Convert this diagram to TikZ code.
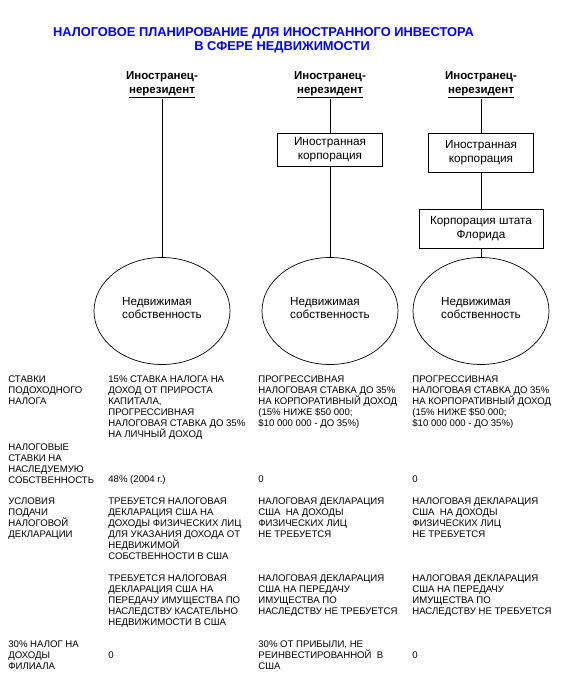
\documentclass[tikz,border=0pt]{standalone}
\usepackage{fontspec}
\setmainfont{Liberation Sans}
\usetikzlibrary{shapes.geometric}

\begin{document}
\begin{tikzpicture}[x=1pt,y=-1pt,line width=.7pt,
 hdr/.style={align=center,inner sep=0pt,font=\bfseries\fontsize{11.5}{14}\selectfont},
 corp/.style={draw,align=center,inner sep=0pt,font=\fontsize{11.8}{14}\selectfont},
 prop/.style={draw,ellipse,inner sep=0pt,minimum width=136,minimum height=107,align=left,font=\fontsize{11.7}{13}\selectfont},
 cell/.style={anchor=north west,align=left,inner sep=0pt,font=\fontsize{9.6}{11}\selectfont}]
 \useasboundingbox (0,0) rectangle (576,699);
 \node[align=center,text=blue,font=\bfseries\fontsize{12.85}{14}\selectfont] (title) at (263.5,40)
 {НАЛОГОВОЕ ПЛАНИРОВАНИЕ ДЛЯ ИНОСТРАННОГО ИНВЕСТОРА\\\hspace*{37pt}В СФЕРЕ НЕДВИЖИМОСТИ};
 % investors
 \node[hdr] (inv1) at (162,85) {Иностранец-\\\underline{нерезидент}};
 \node[hdr] (inv2) at (330,85) {Иностранец-\\\underline{нерезидент}};
 \node[hdr] (inv3) at (481,85) {Иностранец-\\\underline{нерезидент}};
 % corporations
 \node[corp,minimum width=105,minimum height=33] (fc2) at (330,149.5) {Иностранная\\корпорация};
 \node[corp,minimum width=105,minimum height=39] (fc3) at (481,152.5) {Иностранная\\корпорация};
 \node[corp,minimum width=124,minimum height=39] (fl3) at (481,228.5) {Корпорация штата\\Флорида};
 % real estate
 \node[prop] (re1) at (162,311) {Недвижимая\\собственность\\[-6pt]};
 \node[prop] (re2) at (330,311) {Недвижимая\\собственность\\[-6pt]};
 \node[prop] (re3) at (481,311) {Недвижимая\\собственность\\[-6pt]};
 \draw (inv1)--(re1);
 \draw (inv2)--(fc2);\draw (fc2)--(re2);
 \draw (inv3)--(fc3);\draw (fc3)--(fl3);\draw (fl3)--(re3);
 % table
 \node[cell] (r1) at (8,375.6) {СТАВКИ\\ПОДОХОДНОГО\\НАЛОГА};
 \node[cell] (r1a) at (108,375.6) {15\% СТАВКА НАЛОГА НА\\ДОХОД ОТ ПРИРОСТА\\КАПИТАЛА,\\ПРОГРЕССИВНАЯ\\НАЛОГОВАЯ СТАВКА ДО 35\%\\НА ЛИЧНЫЙ ДОХОД};
 \node[cell] (r1b) at (258,375.6) {ПРОГРЕССИВНАЯ\\НАЛОГОВАЯ СТАВКА ДО 35\%\\НА КОРПОРАТИВНЫЙ ДОХОД\\(15\% НИЖЕ \$50 000;\\\$10 000 000 - ДО 35\%)};
 \node[cell] (r1c) at (412,375.6) {ПРОГРЕССИВНАЯ\\НАЛОГОВАЯ СТАВКА ДО 35\%\\НА КОРПОРАТИВНЫЙ ДОХОД\\(15\% НИЖЕ \$50 000;\\\$10 000 000 - ДО 35\%)};
 \node[cell] (r2) at (8,443.6) {НАЛОГОВЫЕ\\СТАВКИ НА\\НАСЛЕДУЕМУЮ\\СОБСТВЕННОСТЬ};
 \node[cell] (r2a) at (108,475.6) {48\% (2004 г.)};
 \node[cell] (r2b) at (258,475.6) {0};
 \node[cell] (r2c) at (412,475.6) {0};
 \node[cell] (r3) at (8,497.6) {УСЛОВИЯ\\ПОДАЧИ\\НАЛОГОВОЙ\\ДЕКЛАРАЦИИ};
 \node[cell] (r3a) at (108,497.6) {ТРЕБУЕТСЯ НАЛОГОВАЯ\\ДЕКЛАРАЦИЯ США НА\\ДОХОДЫ ФИЗИЧЕСКИХ ЛИЦ\\ДЛЯ УКАЗАНИЯ ДОХОДА ОТ\\НЕДВИЖИМОЙ\\СОБСТВЕННОСТИ В США};
 \node[cell] (r3b) at (258,497.6) {НАЛОГОВАЯ ДЕКЛАРАЦИЯ\\США~~НА ДОХОДЫ\\ФИЗИЧЕСКИХ ЛИЦ\\НЕ ТРЕБУЕТСЯ};
 \node[cell] (r3c) at (412,497.6) {НАЛОГОВАЯ ДЕКЛАРАЦИЯ\\США~~НА ДОХОДЫ\\ФИЗИЧЕСКИХ ЛИЦ\\НЕ ТРЕБУЕТСЯ};
 \node[cell] (r4a) at (108,574.6) {ТРЕБУЕТСЯ НАЛОГОВАЯ\\ДЕКЛАРАЦИЯ США НА\\ПЕРЕДАЧУ ИМУЩЕСТВА ПО\\НАСЛЕДСТВУ КАСАТЕЛЬНО\\НЕДВИЖИМОСТИ В США};
 \node[cell] (r4b) at (258,574.6) {НАЛОГОВАЯ ДЕКЛАРАЦИЯ\\США НА ПЕРЕДАЧУ\\ИМУЩЕСТВА ПО\\НАСЛЕДСТВУ НЕ ТРЕБУЕТСЯ};
 \node[cell] (r4c) at (412,574.6) {НАЛОГОВАЯ ДЕКЛАРАЦИЯ\\США НА ПЕРЕДАЧУ\\ИМУЩЕСТВА ПО\\НАСЛЕДСТВУ НЕ ТРЕБУЕТСЯ};
 \node[cell] (r5) at (8,640.6) {30\% НАЛОГ НА\\ДОХОДЫ\\ФИЛИАЛА};
 \node[cell] (r5a) at (108,651.6) {0};
 \node[cell] (r5b) at (258,640.6) {30\% ОТ ПРИБЫЛИ, НЕ\\РЕИНВЕСТИРОВАННОЙ~~В\\США};
 \node[cell] (r5c) at (412,651.6) {0};
\end{tikzpicture}
\end{document}
